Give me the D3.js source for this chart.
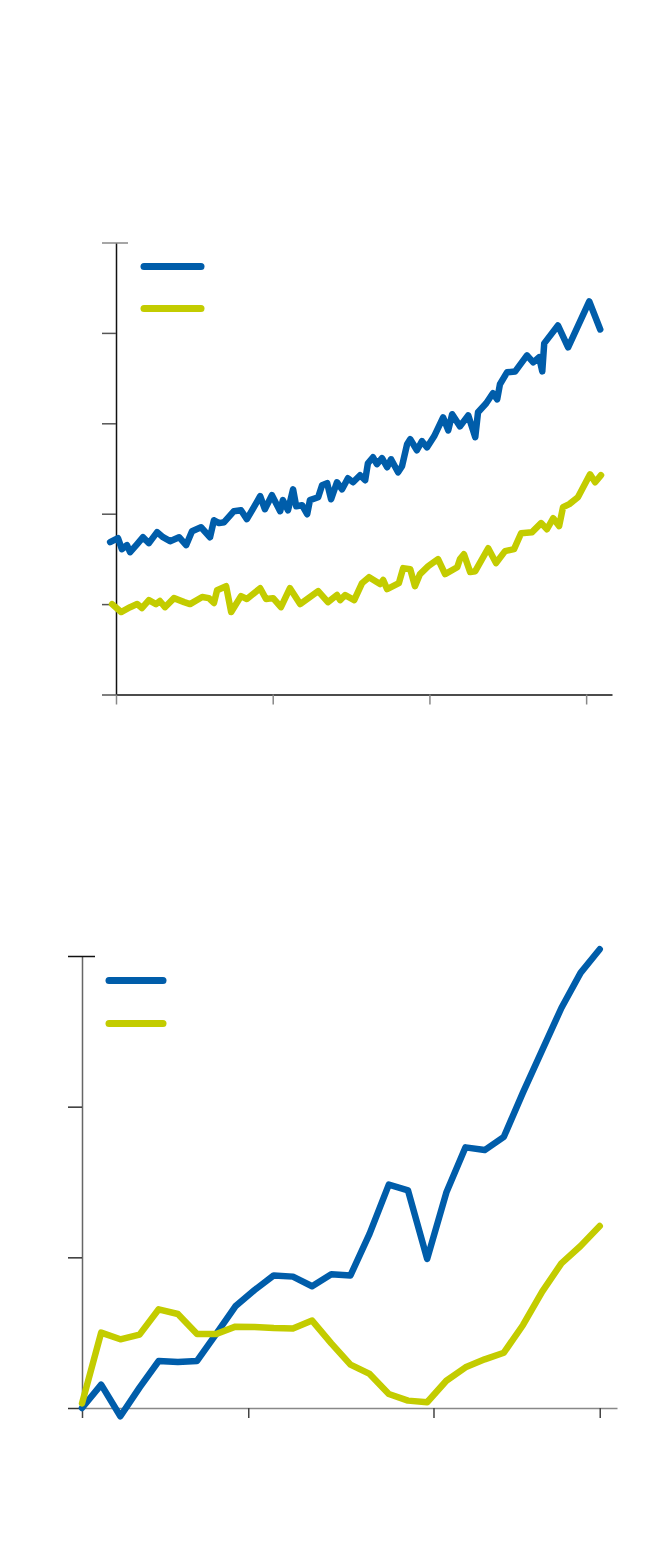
<!DOCTYPE html>
<html>
<head>
<meta charset="utf-8">
<script src="https://cdn.jsdelivr.net/npm/d3@7"></script>
<style>
  html, body { margin: 0; padding: 0; background: #fff; }
  svg { display: block; }
</style>
</head>
<body>
<svg id="chart" width="660" height="1564"></svg>
<script>
// ---------- Chart 1 data (long series) ----------
const c1BlueX = [1878.5,1880.5,1881.5,1882.8,1883.6,1885.4,1886.9,1888.4,1890.5,1892.0,1893.8,1896.1,1897.9,1899.4,1901.7,1904.0,1905.0,1906.3,1907.6,1910.1,1911.9,1913.4,1915.2,1916.8,1918.0,1919.8,1921.9,1922.6,1923.9,1925.2,1926.0,1927.5,1928.8,1929.5,1931.6,1932.6,1933.9,1934.9,1936.4,1937.7,1939.2,1940.5,1942.3,1943.6,1944.3,1945.6,1946.6,1947.9,1949.2,1950.2,1952.0,1953.0,1954.3,1955.1,1956.8,1958.1,1959.4,1961.2,1963.5,1964.8,1965.8,1967.8,1969.9,1971.7,1972.4,1974.5,1976.2,1977.3,1978.0,1979.8,1981.9,1984.9,1986.5,1988.0,1988.8,1989.3,1992.8,1995.4,2000.8,2003.6];
const c1BlueY = [84.3,86.5,80.4,82.6,78.7,83.2,87.0,83.7,89.8,87.0,84.8,87.0,82.6,90.3,92.5,87.0,96.4,94.8,95.3,101.4,101.9,97.0,103.6,109.7,102.5,110.2,101.4,107.5,101.9,113.5,104.1,104.7,99.7,107.5,109.1,115.7,116.9,108.0,117.4,113.5,119.6,117.4,121.3,118.5,127.9,131.2,127.4,130.7,125.7,130.1,122.9,126.2,138.4,141.2,135.1,140.1,136.7,142.8,153.3,146.1,155.0,148.3,154.4,142.3,156.1,161.1,166.6,163.3,171.6,178.2,178.7,187.6,183.7,186.5,178.7,194.2,204.1,192.0,217.4,201.9];
const c1YellowX = [1879.0,1881.3,1883.6,1885.4,1886.6,1888.4,1890.2,1891.2,1892.5,1894.8,1897.4,1898.9,1902.0,1903.7,1905.0,1905.8,1908.1,1909.4,1911.9,1913.4,1916.8,1918.3,1920.1,1922.1,1924.4,1927.0,1931.6,1934.1,1936.4,1937.2,1938.5,1940.8,1942.8,1944.6,1947.4,1948.2,1949.2,1952.2,1953.3,1955.1,1956.3,1957.6,1959.7,1962.2,1964.0,1967.1,1967.8,1968.8,1970.4,1971.7,1975.0,1977.0,1979.3,1981.6,1983.4,1986.2,1988.5,1990.0,1991.6,1993.1,1994.1,1995.7,1997.9,2001.0,2002.3,2003.8];
const c1YellowY = [50.0,45.6,48.3,50.0,47.8,52.2,50.0,51.7,48.3,53.3,51.1,50.0,53.9,53.3,50.6,57.7,59.9,45.6,54.4,52.8,58.8,52.8,53.3,48.3,58.8,50.0,57.2,51.1,55.0,52.2,55.0,52.2,61.6,64.9,61.1,63.3,58.3,61.6,69.9,69.3,59.9,66.6,71.0,74.9,66.6,70.4,74.9,77.6,67.7,68.2,80.9,72.7,79.3,80.4,89.2,89.8,94.8,91.4,97.5,93.1,103.6,105.3,109.1,121.8,117.4,121.3];
const c1XTicks = [1880, 1920, 1960, 2000];
const c1YTicks = [0, 50, 100, 150, 200, 250];

// ---------- Chart 2 data (short series) ----------
const c2Index = d3.range(28);
const c2Blue = [0.0,1.55,-0.55,1.35,3.12,3.05,3.12,4.92,6.75,7.83,8.8,8.72,8.08,8.88,8.8,11.57,14.83,14.45,9.9,14.3,17.3,17.12,18.0,20.95,23.75,26.55,28.88,30.45];
const c2Yellow = [0.3,5.0,4.56,4.87,6.55,6.24,4.91,4.91,5.40,5.38,5.31,5.27,5.80,4.29,2.88,2.26,0.93,0.49,0.38,1.81,2.70,3.23,3.67,5.51,7.72,9.60,10.75,12.08];
const c2XTicks = [0, 8.67, 18.33, 27];
const c2YTicks = [0, 10, 20, 30];

const BLUE = "#005DAA";
const YELLOW = "#C3CC00";

const svg = d3.select("#chart");

function drawChart(opt) {
  const g = svg.append("g");
  const x = d3.scaleLinear().domain(opt.xDomain).range(opt.xRange);
  const y = d3.scaleLinear().domain(opt.yDomain).range(opt.yRange);

  // y axis
  const ya = g.append("g")
    .attr("transform", `translate(${opt.xRange[0]},0)`)
    .call(d3.axisLeft(y).tickValues(opt.yTicks).tickSize(opt.yTickSize).tickSizeOuter(0).tickFormat(""));
  ya.select(".domain").attr("stroke", opt.yDomainColor).attr("stroke-width", 1.5);
  ya.selectAll(".tick line").attr("stroke", opt.yTickColor).attr("stroke-width", 1.5);
  // top tick extends on both sides of the axis
  ya.selectAll(".tick").filter(d => d === opt.yTicks[opt.yTicks.length - 1])
    .select("line").attr("x1", -opt.yTickSize).attr("x2", opt.capRight).attr("stroke", opt.capColor);

  // x axis
  const xa = g.append("g")
    .attr("transform", `translate(0,${opt.yRange[0]})`)
    .call(d3.axisBottom(x).tickValues(opt.xTicks).tickSize(opt.xTickSize).tickSizeOuter(0).tickFormat(""));
  xa.select(".domain").attr("stroke", opt.xDomainColor).attr("stroke-width", 1.5);
  xa.selectAll(".tick line").attr("stroke", opt.xTickColor).attr("stroke-width", 1.5);

  const line = d3.line().x(d => x(d[0])).y(d => y(d[1]));
  opt.series.forEach(s => {
    g.append("path")
      .datum(s.xs.map((v, i) => [v, s.ys[i]]))
      .attr("d", line)
      .attr("fill", "none")
      .attr("stroke", s.color)
      .attr("stroke-width", opt.lineWidth)
      .attr("stroke-linejoin", "round")
      .attr("stroke-linecap", "round");
  });

  // legend swatches
  opt.series.forEach((s, i) => {
    g.append("line")
      .attr("x1", opt.legend.x).attr("x2", opt.legend.x + opt.legend.w)
      .attr("y1", opt.legend.y + i * opt.legend.dy).attr("y2", opt.legend.y + i * opt.legend.dy)
      .attr("stroke", s.color).attr("stroke-width", 7).attr("stroke-linecap", "round");
  });
}

drawChart({
  xDomain: [1880, 2006.6], xRange: [116, 612],
  yDomain: [0, 250], yRange: [694.5, 242.5],
  xTicks: c1XTicks, yTicks: c1YTicks,
  yTickSize: 14, xTickSize: 10, capRight: 12,
  yDomainColor: "#111", yTickColor: "#555", capColor: "#888",
  xDomainColor: "#111", xTickColor: "#888",
  lineWidth: 6.5,
  legend: { x: 144, w: 57, y: 266.5, dy: 42 },
  series: [
    { xs: c1BlueX, ys: c1BlueY, color: BLUE },
    { xs: c1YellowX, ys: c1YellowY, color: YELLOW }
  ]
});

drawChart({
  xDomain: [0, 27.9], xRange: [82, 617],
  yDomain: [0, 30], yRange: [1408, 956],
  xTicks: c2XTicks, yTicks: c2YTicks,
  yTickSize: 14, xTickSize: 10, capRight: 13,
  yDomainColor: "#666", yTickColor: "#333", capColor: "#111",
  xDomainColor: "#888", xTickColor: "#444",
  lineWidth: 6.5,
  legend: { x: 109, w: 54, y: 980.5, dy: 43 },
  series: [
    { xs: c2Index, ys: c2Blue, color: BLUE },
    { xs: c2Index, ys: c2Yellow, color: YELLOW }
  ]
});
</script>
</body>
</html>
